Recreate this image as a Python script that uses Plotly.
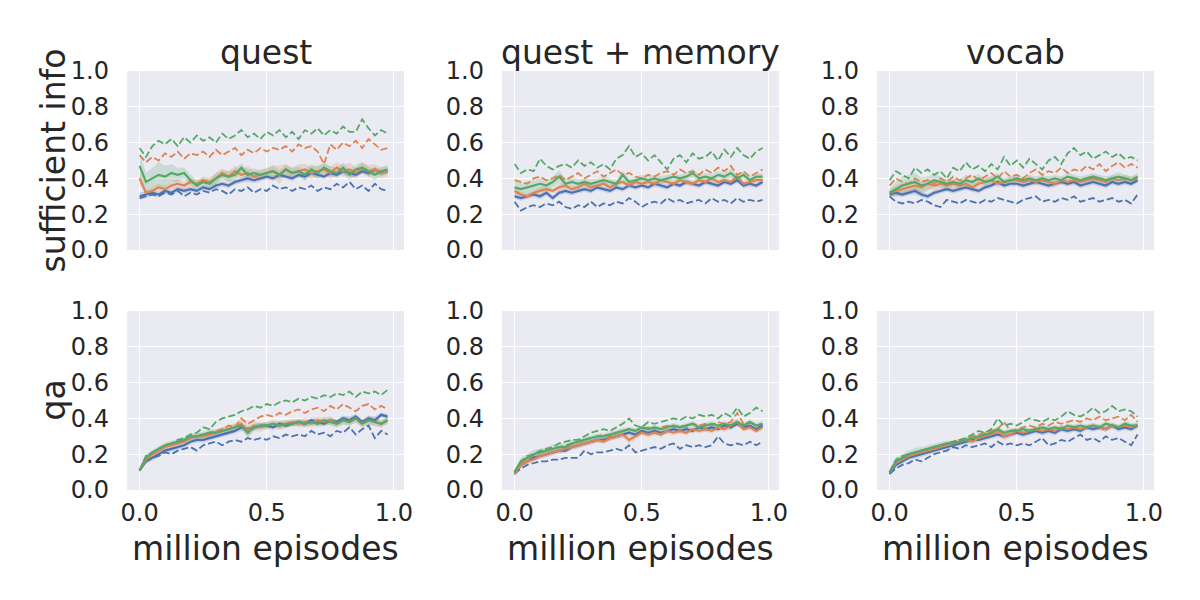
import plotly.graph_objects as go
from plotly.subplots import make_subplots

# x positions (million episodes)
X = [0.0, 0.025, 0.05, 0.075, 0.1, 0.125, 0.15, 0.175, 0.2, 0.225,
     0.25, 0.275, 0.3, 0.325, 0.35, 0.375, 0.4, 0.425, 0.45, 0.475,
     0.5, 0.525, 0.55, 0.575, 0.6, 0.625, 0.65, 0.675, 0.7, 0.725,
     0.75, 0.775, 0.8, 0.825, 0.85, 0.875, 0.9, 0.925, 0.95, 0.975]

COL_TITLES = ["quest", "quest + memory", "vocab"]
ROW_TITLES = ["sufficient info", "qa"]
X_TICKS = [0.0, 0.5, 1.0]
X_TICK_TEXT = ["0.0", "0.5", "1.0"]
Y_TICKS = [0.0, 0.2, 0.4, 0.6, 0.8, 1.0]
Y_TICK_TEXT = ["0.0", "0.2", "0.4", "0.6", "0.8", "1.0"]

# ---------------- quest / sufficient info ---------------- #
Q_SI_BLUE = [0.30, 0.31, 0.32, 0.31, 0.33, 0.32, 0.34, 0.33, 0.34, 0.33,
             0.35, 0.34, 0.36, 0.37, 0.36, 0.38, 0.39, 0.40, 0.39, 0.40,
             0.41, 0.40, 0.42, 0.41, 0.40, 0.42, 0.41, 0.43, 0.42, 0.41,
             0.43, 0.42, 0.44, 0.43, 0.42, 0.44, 0.43, 0.45, 0.43, 0.44]
Q_SI_ORANGE = [0.40, 0.32, 0.33, 0.35, 0.34, 0.36, 0.37, 0.36, 0.38, 0.37,
               0.39, 0.38, 0.40, 0.43, 0.41, 0.44, 0.42, 0.43, 0.41, 0.42,
               0.43, 0.44, 0.42, 0.45, 0.43, 0.44, 0.45, 0.43, 0.44, 0.45,
               0.43, 0.46, 0.44, 0.45, 0.43, 0.46, 0.44, 0.45, 0.43, 0.44]
Q_SI_GREEN = [0.47, 0.38, 0.40, 0.42, 0.41, 0.43, 0.42, 0.43, 0.39, 0.36,
              0.38, 0.37, 0.40, 0.42, 0.41, 0.42, 0.46, 0.42, 0.43, 0.42,
              0.43, 0.44, 0.42, 0.45, 0.43, 0.44, 0.42, 0.45, 0.43, 0.46,
              0.44, 0.43, 0.46, 0.42, 0.45, 0.46, 0.44, 0.42, 0.44, 0.45]
Q_SI_BLUE_DASH = [0.29, 0.30, 0.31, 0.30, 0.32, 0.31, 0.33, 0.30, 0.32, 0.31,
                  0.33, 0.32, 0.34, 0.33, 0.31, 0.34, 0.33, 0.35, 0.32, 0.34,
                  0.33, 0.36, 0.34, 0.35, 0.33, 0.35, 0.34, 0.36, 0.33, 0.35,
                  0.34, 0.37, 0.35, 0.38, 0.34, 0.36, 0.33, 0.37, 0.34, 0.33]
Q_SI_ORANGE_DASH = [0.53, 0.49, 0.52, 0.50, 0.54, 0.52, 0.55, 0.51, 0.54, 0.53,
                    0.55, 0.52, 0.56, 0.53, 0.55, 0.57, 0.53, 0.56, 0.54, 0.57,
                    0.55, 0.57, 0.56, 0.58, 0.55, 0.59, 0.57, 0.58, 0.55, 0.48,
                    0.59, 0.56, 0.60, 0.58, 0.61, 0.57, 0.62, 0.59, 0.56, 0.57]
Q_SI_GREEN_DASH = [0.57, 0.52, 0.58, 0.61, 0.59, 0.62, 0.58, 0.63, 0.60, 0.64,
                   0.61, 0.63, 0.60, 0.65, 0.62, 0.64, 0.67, 0.63, 0.65, 0.62,
                   0.66, 0.64, 0.67, 0.63, 0.66, 0.62, 0.67, 0.65, 0.68, 0.64,
                   0.67, 0.65, 0.69, 0.66, 0.66, 0.73, 0.68, 0.64, 0.67, 0.65]
Q_SI_BLUE_BAND = [0.02, 0.02, 0.015, 0.015, 0.015, 0.015, 0.015, 0.015, 0.015, 0.015,
                  0.015, 0.015, 0.015, 0.015, 0.015, 0.015, 0.015, 0.02, 0.015, 0.015,
                  0.015, 0.015, 0.015, 0.015, 0.015, 0.015, 0.02, 0.015, 0.015, 0.015,
                  0.015, 0.015, 0.015, 0.02, 0.015, 0.015, 0.015, 0.015, 0.015, 0.015]
Q_SI_ORANGE_BAND = [0.03, 0.02, 0.02, 0.02, 0.02, 0.02, 0.025, 0.02, 0.025, 0.02,
                    0.02, 0.025, 0.03, 0.025, 0.03, 0.03, 0.025, 0.04, 0.03, 0.03,
                    0.03, 0.035, 0.05, 0.03, 0.03, 0.04, 0.03, 0.035, 0.03, 0.03,
                    0.035, 0.03, 0.03, 0.04, 0.03, 0.03, 0.035, 0.03, 0.03, 0.03]
Q_SI_GREEN_BAND = [0.08, 0.05, 0.06, 0.07, 0.06, 0.05, 0.04, 0.03, 0.03, 0.03,
                   0.025, 0.025, 0.03, 0.025, 0.03, 0.035, 0.025, 0.03, 0.025, 0.025,
                   0.025, 0.03, 0.025, 0.025, 0.03, 0.025, 0.03, 0.03, 0.035, 0.03,
                   0.03, 0.025, 0.03, 0.03, 0.025, 0.03, 0.025, 0.03, 0.025, 0.025]

# ---------------- quest / qa ---------------- #
Q_QA_BLUE = [0.11, 0.16, 0.18, 0.20, 0.22, 0.23, 0.24, 0.25, 0.27, 0.28,
             0.28, 0.29, 0.30, 0.31, 0.32, 0.33, 0.35, 0.34, 0.35, 0.36,
             0.36, 0.35, 0.37, 0.36, 0.37, 0.38, 0.37, 0.39, 0.38, 0.37,
             0.39, 0.38, 0.40, 0.39, 0.41, 0.38, 0.40, 0.39, 0.42, 0.41]
Q_QA_ORANGE = [0.11, 0.17, 0.20, 0.22, 0.24, 0.25, 0.26, 0.27, 0.29, 0.30,
               0.30, 0.31, 0.32, 0.33, 0.34, 0.35, 0.37, 0.33, 0.36, 0.35,
               0.36, 0.37, 0.36, 0.37, 0.38, 0.37, 0.38, 0.37, 0.39, 0.38,
               0.39, 0.37, 0.39, 0.38, 0.40, 0.37, 0.39, 0.38, 0.37, 0.39]
Q_QA_GREEN = [0.11, 0.18, 0.21, 0.23, 0.25, 0.26, 0.27, 0.28, 0.30, 0.30,
              0.31, 0.32, 0.32, 0.33, 0.34, 0.35, 0.36, 0.32, 0.35, 0.36,
              0.36, 0.37, 0.36, 0.37, 0.37, 0.38, 0.37, 0.38, 0.37, 0.39,
              0.38, 0.37, 0.39, 0.38, 0.40, 0.37, 0.39, 0.38, 0.37, 0.39]
Q_QA_BLUE_DASH = [0.11, 0.16, 0.18, 0.19, 0.21, 0.20, 0.22, 0.23, 0.24, 0.22,
                  0.25, 0.26, 0.27, 0.25, 0.27, 0.28, 0.27, 0.29, 0.28, 0.29,
                  0.28, 0.30, 0.29, 0.31, 0.30, 0.31, 0.30, 0.33, 0.31, 0.32,
                  0.30, 0.33, 0.32, 0.35, 0.31, 0.34, 0.36, 0.29, 0.33, 0.31]
Q_QA_ORANGE_DASH = [0.11, 0.18, 0.20, 0.22, 0.24, 0.25, 0.26, 0.28, 0.29, 0.30,
                    0.31, 0.32, 0.33, 0.34, 0.36, 0.35, 0.40, 0.37, 0.39, 0.41,
                    0.42, 0.41, 0.43, 0.42, 0.44, 0.45, 0.43, 0.45, 0.46, 0.44,
                    0.47, 0.45, 0.48, 0.46, 0.44, 0.47, 0.48, 0.45, 0.47, 0.45]
Q_QA_GREEN_DASH = [0.11, 0.19, 0.21, 0.23, 0.25, 0.26, 0.28, 0.29, 0.31, 0.32,
                   0.35, 0.34, 0.38, 0.40, 0.41, 0.42, 0.44, 0.45, 0.47, 0.46,
                   0.48, 0.47, 0.49, 0.50, 0.49, 0.51, 0.50, 0.52, 0.51, 0.53,
                   0.52, 0.54, 0.53, 0.55, 0.52, 0.55, 0.54, 0.55, 0.53, 0.56]
Q_QA_BLUE_BAND = [0.01, 0.015, 0.015, 0.015, 0.015, 0.015, 0.015, 0.015, 0.015, 0.015,
                  0.015, 0.015, 0.015, 0.015, 0.015, 0.015, 0.02, 0.015, 0.015, 0.015,
                  0.015, 0.015, 0.015, 0.015, 0.015, 0.015, 0.015, 0.015, 0.02, 0.015,
                  0.015, 0.015, 0.015, 0.02, 0.015, 0.015, 0.015, 0.02, 0.015, 0.015]
Q_QA_ORANGE_BAND = [0.01, 0.015, 0.015, 0.015, 0.015, 0.015, 0.015, 0.02, 0.015, 0.02,
                    0.015, 0.02, 0.02, 0.02, 0.025, 0.02, 0.03, 0.035, 0.03, 0.025,
                    0.02, 0.02, 0.025, 0.02, 0.02, 0.02, 0.025, 0.02, 0.02, 0.02,
                    0.025, 0.02, 0.02, 0.02, 0.025, 0.02, 0.02, 0.025, 0.02, 0.02]
Q_QA_GREEN_BAND = [0.01, 0.015, 0.015, 0.015, 0.015, 0.015, 0.015, 0.015, 0.02, 0.015,
                   0.015, 0.02, 0.015, 0.02, 0.015, 0.02, 0.02, 0.025, 0.02, 0.015,
                   0.02, 0.015, 0.02, 0.02, 0.015, 0.02, 0.02, 0.015, 0.02, 0.02,
                   0.02, 0.02, 0.025, 0.02, 0.02, 0.02, 0.025, 0.02, 0.02, 0.02]

# ---------------- quest + memory / sufficient info ---------------- #
QM_SI_BLUE = [0.30, 0.29, 0.30, 0.31, 0.30, 0.32, 0.29, 0.32, 0.33, 0.32,
              0.33, 0.34, 0.33, 0.35, 0.34, 0.33, 0.35, 0.34, 0.36, 0.35,
              0.36, 0.35, 0.37, 0.36, 0.35, 0.37, 0.36, 0.38, 0.37, 0.36,
              0.38, 0.37, 0.36, 0.38, 0.37, 0.39, 0.36, 0.37, 0.36, 0.38]
QM_SI_ORANGE = [0.33, 0.31, 0.30, 0.32, 0.33, 0.34, 0.33, 0.35, 0.36, 0.34,
                0.35, 0.37, 0.35, 0.36, 0.37, 0.35, 0.37, 0.38, 0.36, 0.38,
                0.37, 0.38, 0.37, 0.39, 0.38, 0.37, 0.39, 0.38, 0.37, 0.39,
                0.38, 0.40, 0.38, 0.39, 0.38, 0.41, 0.37, 0.38, 0.39, 0.39]
QM_SI_GREEN = [0.35, 0.34, 0.35, 0.36, 0.37, 0.36, 0.38, 0.41, 0.37, 0.38,
               0.37, 0.38, 0.37, 0.38, 0.39, 0.38, 0.37, 0.42, 0.38, 0.39,
               0.40, 0.39, 0.40, 0.39, 0.40, 0.41, 0.40, 0.41, 0.43, 0.40,
               0.41, 0.40, 0.42, 0.41, 0.43, 0.40, 0.42, 0.39, 0.41, 0.41]
QM_SI_BLUE_DASH = [0.27, 0.22, 0.24, 0.25, 0.24, 0.26, 0.25, 0.27, 0.24, 0.23,
                   0.25, 0.24, 0.27, 0.24, 0.26, 0.25, 0.27, 0.26, 0.29, 0.27,
                   0.24, 0.26, 0.27, 0.26, 0.29, 0.27, 0.28, 0.26, 0.27, 0.28,
                   0.26, 0.29, 0.27, 0.28, 0.26, 0.29, 0.27, 0.28, 0.27, 0.28]
QM_SI_ORANGE_DASH = [0.39, 0.38, 0.37, 0.40, 0.41, 0.39, 0.40, 0.42, 0.39, 0.41,
                     0.43, 0.40, 0.42, 0.44, 0.41, 0.43, 0.45, 0.42, 0.43, 0.41,
                     0.40, 0.42, 0.41, 0.43, 0.44, 0.42, 0.45, 0.43, 0.44, 0.42,
                     0.45, 0.43, 0.46, 0.44, 0.47, 0.42, 0.44, 0.41, 0.43, 0.45]
QM_SI_GREEN_DASH = [0.48, 0.43, 0.45, 0.44, 0.51, 0.47, 0.45, 0.47, 0.48, 0.46,
                    0.50, 0.47, 0.49, 0.46, 0.48, 0.45, 0.51, 0.53, 0.58, 0.52,
                    0.54, 0.50, 0.53, 0.49, 0.45, 0.51, 0.53, 0.49, 0.54, 0.51,
                    0.52, 0.55, 0.50, 0.56, 0.52, 0.57, 0.53, 0.51, 0.55, 0.57]
QM_SI_BLUE_BAND = [0.015, 0.015, 0.015, 0.015, 0.015, 0.015, 0.015, 0.015, 0.015, 0.015,
                   0.015, 0.015, 0.015, 0.015, 0.015, 0.015, 0.015, 0.015, 0.015, 0.015,
                   0.015, 0.015, 0.015, 0.015, 0.015, 0.015, 0.015, 0.015, 0.015, 0.015,
                   0.015, 0.015, 0.015, 0.015, 0.015, 0.015, 0.015, 0.015, 0.015, 0.015]
QM_SI_ORANGE_BAND = [0.02, 0.015, 0.015, 0.015, 0.02, 0.015, 0.015, 0.02, 0.015, 0.015,
                     0.015, 0.02, 0.015, 0.015, 0.015, 0.02, 0.015, 0.015, 0.015, 0.015,
                     0.015, 0.015, 0.02, 0.015, 0.015, 0.015, 0.015, 0.02, 0.015, 0.015,
                     0.015, 0.015, 0.015, 0.015, 0.02, 0.015, 0.015, 0.015, 0.015, 0.015]
QM_SI_GREEN_BAND = [0.035, 0.035, 0.035, 0.03, 0.035, 0.03, 0.03, 0.035, 0.03, 0.025,
                    0.025, 0.02, 0.025, 0.02, 0.025, 0.02, 0.02, 0.025, 0.02, 0.02,
                    0.02, 0.02, 0.02, 0.025, 0.02, 0.02, 0.02, 0.02, 0.025, 0.02,
                    0.02, 0.025, 0.02, 0.02, 0.025, 0.02, 0.02, 0.02, 0.02, 0.02]

# ---------------- quest + memory / qa ---------------- #
QM_QA_BLUE = [0.09, 0.14, 0.16, 0.18, 0.19, 0.20, 0.21, 0.22, 0.22, 0.24,
              0.25, 0.26, 0.27, 0.28, 0.28, 0.29, 0.30, 0.31, 0.32, 0.31,
              0.33, 0.32, 0.33, 0.32, 0.33, 0.34, 0.33, 0.34, 0.33, 0.35,
              0.34, 0.35, 0.34, 0.36, 0.35, 0.37, 0.35, 0.36, 0.34, 0.36]
QM_QA_ORANGE = [0.09, 0.14, 0.16, 0.17, 0.19, 0.20, 0.21, 0.22, 0.23, 0.24,
                0.25, 0.26, 0.27, 0.28, 0.27, 0.29, 0.30, 0.31, 0.28, 0.30,
                0.32, 0.31, 0.32, 0.31, 0.33, 0.32, 0.33, 0.32, 0.34, 0.33,
                0.34, 0.33, 0.35, 0.34, 0.36, 0.38, 0.34, 0.35, 0.33, 0.35]
QM_QA_GREEN = [0.10, 0.16, 0.18, 0.20, 0.21, 0.22, 0.23, 0.24, 0.24, 0.26,
               0.27, 0.28, 0.29, 0.30, 0.30, 0.31, 0.32, 0.33, 0.34, 0.33,
               0.35, 0.34, 0.35, 0.34, 0.35, 0.36, 0.35, 0.36, 0.37, 0.35,
               0.36, 0.37, 0.36, 0.37, 0.36, 0.38, 0.36, 0.38, 0.36, 0.37]
QM_QA_BLUE_DASH = [0.09, 0.12, 0.14, 0.15, 0.16, 0.16, 0.17, 0.17, 0.18, 0.18,
                   0.18, 0.22, 0.20, 0.21, 0.21, 0.22, 0.23, 0.22, 0.25, 0.21,
                   0.22, 0.23, 0.24, 0.23, 0.25, 0.26, 0.23, 0.25, 0.24, 0.25,
                   0.24, 0.25, 0.30, 0.26, 0.25, 0.26, 0.25, 0.27, 0.25, 0.27]
QM_QA_ORANGE_DASH = [0.10, 0.15, 0.17, 0.19, 0.21, 0.22, 0.23, 0.24, 0.25, 0.26,
                     0.27, 0.28, 0.29, 0.30, 0.31, 0.30, 0.32, 0.33, 0.34, 0.33,
                     0.34, 0.35, 0.34, 0.35, 0.36, 0.35, 0.36, 0.35, 0.37, 0.36,
                     0.37, 0.36, 0.38, 0.37, 0.38, 0.43, 0.37, 0.38, 0.36, 0.37]
QM_QA_GREEN_DASH = [0.10, 0.16, 0.19, 0.20, 0.22, 0.23, 0.24, 0.26, 0.27, 0.28,
                    0.28, 0.30, 0.32, 0.33, 0.34, 0.33, 0.35, 0.37, 0.40, 0.36,
                    0.35, 0.38, 0.37, 0.38, 0.39, 0.40, 0.39, 0.41, 0.40, 0.42,
                    0.41, 0.42, 0.40, 0.43, 0.41, 0.46, 0.41, 0.43, 0.46, 0.44]
QM_QA_BLUE_BAND = [0.01, 0.015, 0.015, 0.015, 0.015, 0.015, 0.015, 0.015, 0.015, 0.015,
                   0.015, 0.015, 0.015, 0.015, 0.015, 0.015, 0.015, 0.015, 0.015, 0.015,
                   0.015, 0.015, 0.015, 0.015, 0.015, 0.015, 0.015, 0.015, 0.015, 0.015,
                   0.015, 0.015, 0.015, 0.015, 0.015, 0.015, 0.015, 0.015, 0.015, 0.015]
QM_QA_ORANGE_BAND = [0.01, 0.015, 0.015, 0.015, 0.015, 0.015, 0.015, 0.015, 0.015, 0.015,
                     0.015, 0.015, 0.015, 0.015, 0.015, 0.015, 0.015, 0.02, 0.02, 0.015,
                     0.015, 0.015, 0.015, 0.015, 0.015, 0.015, 0.015, 0.015, 0.015, 0.015,
                     0.015, 0.015, 0.015, 0.015, 0.02, 0.02, 0.015, 0.015, 0.015, 0.015]
QM_QA_GREEN_BAND = [0.015, 0.02, 0.02, 0.025, 0.02, 0.02, 0.025, 0.02, 0.02, 0.02,
                    0.015, 0.015, 0.015, 0.015, 0.015, 0.02, 0.015, 0.015, 0.015, 0.015,
                    0.015, 0.015, 0.015, 0.015, 0.015, 0.015, 0.015, 0.015, 0.015, 0.015,
                    0.015, 0.015, 0.015, 0.015, 0.015, 0.015, 0.015, 0.015, 0.015, 0.015]

# ---------------- vocab / sufficient info ---------------- #
V_SI_BLUE = [0.31, 0.32, 0.31, 0.32, 0.33, 0.31, 0.30, 0.32, 0.33, 0.34,
             0.33, 0.34, 0.35, 0.34, 0.33, 0.35, 0.36, 0.38, 0.36, 0.37,
             0.37, 0.36, 0.37, 0.38, 0.37, 0.36, 0.37, 0.38, 0.37, 0.38,
             0.36, 0.37, 0.38, 0.37, 0.36, 0.38, 0.37, 0.38, 0.37, 0.39]
V_SI_ORANGE = [0.32, 0.33, 0.34, 0.35, 0.36, 0.35, 0.37, 0.36, 0.37, 0.36,
               0.37, 0.36, 0.37, 0.35, 0.37, 0.38, 0.39, 0.37, 0.38, 0.39,
               0.39, 0.38, 0.39, 0.38, 0.39, 0.38, 0.37, 0.39, 0.38, 0.39,
               0.38, 0.39, 0.40, 0.39, 0.38, 0.40, 0.39, 0.40, 0.39, 0.40]
V_SI_GREEN = [0.32, 0.34, 0.36, 0.37, 0.38, 0.36, 0.37, 0.39, 0.38, 0.37,
              0.38, 0.37, 0.39, 0.38, 0.40, 0.38, 0.39, 0.41, 0.38, 0.39,
              0.40, 0.39, 0.40, 0.39, 0.40, 0.39, 0.40, 0.39, 0.41, 0.40,
              0.39, 0.40, 0.41, 0.40, 0.39, 0.40, 0.41, 0.40, 0.39, 0.41]
V_SI_BLUE_DASH = [0.30, 0.27, 0.26, 0.27, 0.26, 0.28, 0.27, 0.25, 0.24, 0.28,
                  0.27, 0.26, 0.28, 0.27, 0.26, 0.28, 0.27, 0.29, 0.28, 0.27,
                  0.26, 0.28, 0.29, 0.30, 0.27, 0.28, 0.27, 0.29, 0.28, 0.30,
                  0.27, 0.28, 0.29, 0.27, 0.28, 0.29, 0.27, 0.28, 0.26, 0.31]
V_SI_ORANGE_DASH = [0.36, 0.40, 0.38, 0.37, 0.40, 0.38, 0.39, 0.37, 0.40, 0.38,
                    0.41, 0.39, 0.40, 0.42, 0.39, 0.41, 0.43, 0.40, 0.44, 0.41,
                    0.42, 0.40, 0.43, 0.45, 0.42, 0.44, 0.43, 0.46, 0.43, 0.45,
                    0.44, 0.47, 0.45, 0.48, 0.44, 0.47, 0.49, 0.46, 0.48, 0.46]
V_SI_GREEN_DASH = [0.39, 0.44, 0.42, 0.40, 0.46, 0.43, 0.45, 0.42, 0.44, 0.40,
                   0.46, 0.44, 0.49, 0.45, 0.47, 0.44, 0.48, 0.45, 0.52, 0.47,
                   0.50, 0.46, 0.51, 0.48, 0.45, 0.50, 0.52, 0.48, 0.54, 0.57,
                   0.53, 0.55, 0.51, 0.53, 0.55, 0.52, 0.54, 0.51, 0.52, 0.50]
V_SI_BLUE_BAND = [0.015, 0.015, 0.015, 0.015, 0.02, 0.015, 0.015, 0.015, 0.015, 0.015,
                  0.015, 0.015, 0.015, 0.015, 0.015, 0.015, 0.015, 0.015, 0.015, 0.015,
                  0.015, 0.015, 0.015, 0.015, 0.015, 0.015, 0.015, 0.015, 0.015, 0.015,
                  0.015, 0.015, 0.015, 0.015, 0.015, 0.015, 0.015, 0.015, 0.015, 0.015]
V_SI_ORANGE_BAND = [0.02, 0.03, 0.035, 0.035, 0.03, 0.03, 0.03, 0.025, 0.025, 0.025,
                    0.025, 0.025, 0.02, 0.025, 0.02, 0.025, 0.02, 0.02, 0.02, 0.02,
                    0.02, 0.02, 0.02, 0.02, 0.02, 0.02, 0.02, 0.02, 0.02, 0.02,
                    0.02, 0.02, 0.02, 0.02, 0.02, 0.02, 0.02, 0.02, 0.02, 0.02]
V_SI_GREEN_BAND = [0.02, 0.04, 0.05, 0.05, 0.05, 0.045, 0.04, 0.035, 0.03, 0.03,
                   0.025, 0.025, 0.03, 0.025, 0.025, 0.02, 0.025, 0.02, 0.02, 0.02,
                   0.02, 0.02, 0.02, 0.02, 0.02, 0.02, 0.02, 0.02, 0.025, 0.02,
                   0.02, 0.02, 0.02, 0.02, 0.02, 0.02, 0.025, 0.02, 0.02, 0.02]

# ---------------- vocab / qa ---------------- #
V_QA_BLUE = [0.09, 0.14, 0.16, 0.18, 0.19, 0.20, 0.21, 0.22, 0.23, 0.24,
             0.25, 0.26, 0.27, 0.28, 0.28, 0.29, 0.30, 0.31, 0.30, 0.31,
             0.32, 0.31, 0.32, 0.33, 0.32, 0.33, 0.32, 0.34, 0.33, 0.34,
             0.33, 0.35, 0.34, 0.35, 0.34, 0.36, 0.34, 0.35, 0.34, 0.36]
V_QA_ORANGE = [0.10, 0.15, 0.17, 0.19, 0.20, 0.21, 0.22, 0.23, 0.24, 0.25,
               0.26, 0.27, 0.28, 0.27, 0.29, 0.30, 0.31, 0.33, 0.30, 0.31,
               0.33, 0.32, 0.33, 0.34, 0.33, 0.34, 0.33, 0.35, 0.34, 0.35,
               0.34, 0.35, 0.36, 0.35, 0.34, 0.36, 0.35, 0.36, 0.35, 0.36]
V_QA_GREEN = [0.10, 0.16, 0.18, 0.20, 0.21, 0.22, 0.23, 0.24, 0.25, 0.26,
              0.26, 0.27, 0.28, 0.29, 0.30, 0.31, 0.32, 0.34, 0.32, 0.33,
              0.33, 0.34, 0.33, 0.34, 0.35, 0.34, 0.35, 0.34, 0.36, 0.35,
              0.36, 0.35, 0.36, 0.35, 0.37, 0.36, 0.35, 0.37, 0.36, 0.36]
V_QA_BLUE_DASH = [0.09, 0.12, 0.14, 0.15, 0.17, 0.16, 0.18, 0.20, 0.21, 0.22,
                  0.24, 0.23, 0.25, 0.24, 0.25, 0.26, 0.24, 0.27, 0.25, 0.26,
                  0.25, 0.26, 0.25, 0.27, 0.29, 0.25, 0.26, 0.28, 0.27, 0.29,
                  0.31, 0.28, 0.29, 0.27, 0.30, 0.28, 0.29, 0.27, 0.25, 0.31]
V_QA_ORANGE_DASH = [0.10, 0.16, 0.18, 0.19, 0.20, 0.21, 0.23, 0.24, 0.25, 0.26,
                    0.27, 0.28, 0.28, 0.30, 0.31, 0.32, 0.33, 0.34, 0.38, 0.33,
                    0.34, 0.35, 0.36, 0.35, 0.37, 0.36, 0.38, 0.37, 0.38, 0.39,
                    0.38, 0.40, 0.39, 0.41, 0.39, 0.40, 0.41, 0.39, 0.42, 0.38]
V_QA_GREEN_DASH = [0.10, 0.17, 0.19, 0.20, 0.21, 0.22, 0.23, 0.24, 0.25, 0.26,
                   0.27, 0.28, 0.29, 0.31, 0.33, 0.32, 0.34, 0.40, 0.36, 0.37,
                   0.36, 0.38, 0.40, 0.39, 0.38, 0.40, 0.39, 0.41, 0.44, 0.42,
                   0.41, 0.43, 0.46, 0.43, 0.44, 0.47, 0.44, 0.45, 0.44, 0.41]
V_QA_BLUE_BAND = [0.01, 0.015, 0.015, 0.015, 0.015, 0.015, 0.015, 0.015, 0.015, 0.015,
                  0.015, 0.015, 0.015, 0.015, 0.015, 0.015, 0.015, 0.015, 0.015, 0.015,
                  0.015, 0.015, 0.015, 0.015, 0.015, 0.015, 0.015, 0.015, 0.015, 0.015,
                  0.015, 0.015, 0.015, 0.015, 0.015, 0.015, 0.015, 0.015, 0.015, 0.015]
V_QA_ORANGE_BAND = [0.01, 0.015, 0.015, 0.015, 0.015, 0.015, 0.015, 0.015, 0.015, 0.015,
                    0.015, 0.015, 0.015, 0.015, 0.015, 0.015, 0.02, 0.02, 0.02, 0.015,
                    0.015, 0.015, 0.015, 0.015, 0.015, 0.015, 0.015, 0.015, 0.015, 0.015,
                    0.015, 0.015, 0.015, 0.015, 0.015, 0.015, 0.015, 0.015, 0.015, 0.015]
V_QA_GREEN_BAND = [0.015, 0.02, 0.02, 0.02, 0.025, 0.02, 0.02, 0.02, 0.02, 0.015,
                   0.015, 0.015, 0.015, 0.015, 0.015, 0.015, 0.015, 0.015, 0.015, 0.015,
                   0.015, 0.015, 0.015, 0.015, 0.015, 0.015, 0.015, 0.015, 0.015, 0.015,
                   0.015, 0.015, 0.015, 0.015, 0.015, 0.015, 0.015, 0.015, 0.015, 0.015]

# seaborn "deep" palette
COLORS = ["#4C72B0", "#DD8452", "#55A868"]
BAND_FILLS = ["rgba(76,114,176,0.22)", "rgba(221,132,82,0.22)", "rgba(85,168,104,0.22)"]
TEXT_COLOR = "#262626"
FONT = "DejaVu Sans"

# (row, col, solid lines, dashed lines, bands)
PANELS = [
    (1, 1, [Q_SI_BLUE, Q_SI_ORANGE, Q_SI_GREEN],
     [Q_SI_BLUE_DASH, Q_SI_ORANGE_DASH, Q_SI_GREEN_DASH],
     [Q_SI_BLUE_BAND, Q_SI_ORANGE_BAND, Q_SI_GREEN_BAND]),
    (1, 2, [QM_SI_BLUE, QM_SI_ORANGE, QM_SI_GREEN],
     [QM_SI_BLUE_DASH, QM_SI_ORANGE_DASH, QM_SI_GREEN_DASH],
     [QM_SI_BLUE_BAND, QM_SI_ORANGE_BAND, QM_SI_GREEN_BAND]),
    (1, 3, [V_SI_BLUE, V_SI_ORANGE, V_SI_GREEN],
     [V_SI_BLUE_DASH, V_SI_ORANGE_DASH, V_SI_GREEN_DASH],
     [V_SI_BLUE_BAND, V_SI_ORANGE_BAND, V_SI_GREEN_BAND]),
    (2, 1, [Q_QA_BLUE, Q_QA_ORANGE, Q_QA_GREEN],
     [Q_QA_BLUE_DASH, Q_QA_ORANGE_DASH, Q_QA_GREEN_DASH],
     [Q_QA_BLUE_BAND, Q_QA_ORANGE_BAND, Q_QA_GREEN_BAND]),
    (2, 2, [QM_QA_BLUE, QM_QA_ORANGE, QM_QA_GREEN],
     [QM_QA_BLUE_DASH, QM_QA_ORANGE_DASH, QM_QA_GREEN_DASH],
     [QM_QA_BLUE_BAND, QM_QA_ORANGE_BAND, QM_QA_GREEN_BAND]),
    (2, 3, [V_QA_BLUE, V_QA_ORANGE, V_QA_GREEN],
     [V_QA_BLUE_DASH, V_QA_ORANGE_DASH, V_QA_GREEN_DASH],
     [V_QA_BLUE_BAND, V_QA_ORANGE_BAND, V_QA_GREEN_BAND]),
]

# the page body adds an 8px margin, so screen pixels are shifted by 8
W, H, PAGE_OFFSET = 1200, 600, 8


def px_x(p):
    return (p - PAGE_OFFSET) / W


def px_y(p):
    return 1 - (p - PAGE_OFFSET) / H


COL_PX = [(127, 404), (502, 779), (877, 1154)]
ROW_PX = [(71, 250), (311, 490)]
COL_DOMAINS = [[px_x(a), px_x(b)] for a, b in COL_PX]
ROW_DOMAINS = [[px_y(b), px_y(a)] for a, b in ROW_PX]


def add_panel(fig, row, col, solid, dashed, bands):
    # shaded bands first
    for y, w, fill in zip(solid, bands, BAND_FILLS):
        upper = [v + d for v, d in zip(y, w)]
        lower = [v - d for v, d in zip(y, w)]
        fig.add_trace(go.Scatter(x=X, y=upper, mode="lines", line=dict(width=0),
                                 hoverinfo="skip", showlegend=False), row=row, col=col)
        fig.add_trace(go.Scatter(x=X, y=lower, mode="lines", line=dict(width=0),
                                 fill="tonexty", fillcolor=fill,
                                 hoverinfo="skip", showlegend=False), row=row, col=col)
    for y, c in zip(dashed, COLORS):
        fig.add_trace(go.Scatter(x=X, y=y, mode="lines",
                                 line=dict(color=c, width=1.8, dash="7px,3px"),
                                 showlegend=False), row=row, col=col)
    for y, c in zip(solid, COLORS):
        fig.add_trace(go.Scatter(x=X, y=y, mode="lines",
                                 line=dict(color=c, width=2.2),
                                 showlegend=False), row=row, col=col)


fig = make_subplots(rows=2, cols=3)
for row, col, solid, dashed, bands in PANELS:
    add_panel(fig, row, col, solid, dashed, bands)

for r in (1, 2):
    for c in (1, 2, 3):
        fig.update_xaxes(domain=COL_DOMAINS[c - 1], showticklabels=(r == 2), row=r, col=c)
        fig.update_yaxes(domain=ROW_DOMAINS[r - 1], row=r, col=c)

fig.update_xaxes(range=[-0.0495, 1.0395], tickvals=X_TICKS, ticktext=X_TICK_TEXT,
                 showgrid=True, gridcolor="white", gridwidth=1.3, zeroline=False,
                 showline=False, ticks="", ticklabelstandoff=6, automargin=False,
                 tickfont=dict(size=24, color=TEXT_COLOR, family=FONT))
fig.update_yaxes(range=[0, 1], tickvals=Y_TICKS, ticktext=Y_TICK_TEXT,
                 showgrid=True, gridcolor="white", gridwidth=1.3, zeroline=False,
                 showline=False, ticks="", ticklabelstandoff=17, automargin=False,
                 tickfont=dict(size=24, color=TEXT_COLOR, family=FONT))

annotations = []
col_centers = [sum(d) / 2 for d in COL_DOMAINS]
row_centers = [sum(d) / 2 for d in ROW_DOMAINS]
for title, xc in zip(COL_TITLES, col_centers):
    annotations.append(dict(text=title, x=xc, y=px_y(52), xref="paper", yref="paper",
                            xanchor="center", yanchor="middle", showarrow=False,
                            font=dict(size=33, color=TEXT_COLOR, family=FONT)))
    annotations.append(dict(text="million episodes", x=xc, y=px_y(548), xref="paper",
                            yref="paper", xanchor="center", yanchor="middle",
                            showarrow=False,
                            font=dict(size=33, color=TEXT_COLOR, family=FONT)))
for title, yc in zip(ROW_TITLES, row_centers):
    annotations.append(dict(text=title, x=px_x(53), y=yc, xref="paper", yref="paper",
                            xanchor="center", yanchor="middle", textangle=-90,
                            showarrow=False,
                            font=dict(size=33, color=TEXT_COLOR, family=FONT)))

fig.update_layout(width=W, height=H, margin=dict(l=0, r=0, t=0, b=0),
                  paper_bgcolor="white", plot_bgcolor="#EAEAF2",
                  font=dict(family=FONT, color=TEXT_COLOR),
                  showlegend=False, annotations=annotations)

fig.write_html("out.html")
